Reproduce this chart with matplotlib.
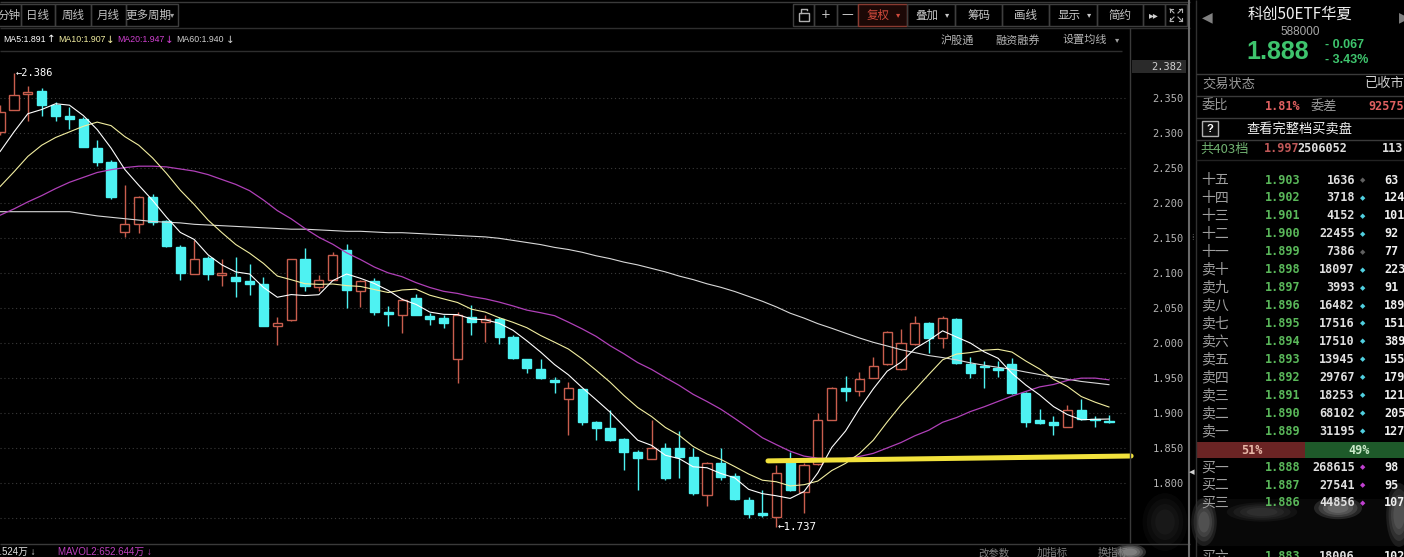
import numpy as np
import pandas as pd
import matplotlib
matplotlib.use("Agg")
import matplotlib.pyplot as plt
from matplotlib.patches import Rectangle, Ellipse

# ---------------- data ----------------
opens = [2.302, 2.333, 2.356, 2.361, 2.340, 2.325, 2.320, 2.279, 2.259, 2.159,
         2.170, 2.209, 2.175, 2.138, 2.099, 2.122, 2.097, 2.094, 2.089, 2.085,
         2.025, 2.033, 2.121, 2.081, 2.091, 2.133, 2.074, 2.089, 2.044, 2.040,
         2.064, 2.039, 2.036, 1.977, 2.037, 2.030, 2.034, 2.009, 1.977, 1.963,
         1.948, 1.921, 1.934, 1.888, 1.879, 1.863, 1.845, 1.834, 1.850, 1.850,
         1.838, 1.783, 1.829, 1.810, 1.776, 1.758, 1.752, 1.830, 1.787, 1.827,
         1.890, 1.936, 1.932, 1.951, 1.970, 1.963, 1.999, 2.029, 2.007, 2.035,
         1.971, 1.967, 1.964, 1.970, 1.929, 1.890, 1.887, 1.881, 1.905, 1.892,
         1.889]
highs = [2.340, 2.386, 2.368, 2.364, 2.344, 2.338, 2.323, 2.290, 2.262, 2.226,
         2.210, 2.213, 2.176, 2.141, 2.148, 2.125, 2.120, 2.123, 2.113, 2.094,
         2.037, 2.121, 2.136, 2.098, 2.131, 2.142, 2.091, 2.093, 2.053, 2.064,
         2.070, 2.043, 2.040, 2.045, 2.055, 2.040, 2.038, 2.012, 1.978, 1.977,
         1.952, 1.944, 1.935, 1.889, 1.904, 1.864, 1.848, 1.890, 1.857, 1.874,
         1.850, 1.831, 1.850, 1.814, 1.781, 1.790, 1.826, 1.844, 1.829, 1.900,
         1.937, 1.953, 1.959, 1.980, 2.018, 2.020, 2.039, 2.030, 2.039, 2.036,
         1.981, 1.975, 1.974, 1.979, 1.930, 1.906, 1.896, 1.912, 1.921, 1.896,
         1.897]
lows = [2.298, 2.333, 2.317, 2.324, 2.318, 2.306, 2.280, 2.253, 2.206, 2.152,
        2.157, 2.169, 2.138, 2.090, 2.099, 2.090, 2.082, 2.066, 2.069, 2.024,
        1.998, 2.032, 2.075, 2.075, 2.091, 2.050, 2.052, 2.040, 2.025, 2.014,
        2.040, 2.026, 2.022, 1.943, 2.012, 2.002, 1.999, 1.978, 1.958, 1.949,
        1.929, 1.869, 1.883, 1.862, 1.861, 1.819, 1.791, 1.834, 1.805, 1.808,
        1.783, 1.768, 1.805, 1.776, 1.750, 1.752, 1.737, 1.789, 1.757, 1.826,
        1.890, 1.917, 1.924, 1.950, 1.969, 1.962, 1.998, 1.986, 1.993, 1.971,
        1.951, 1.936, 1.952, 1.928, 1.881, 1.884, 1.869, 1.880, 1.891, 1.881,
        1.886]
closes = [2.331, 2.355, 2.359, 2.341, 2.325, 2.321, 2.281, 2.259, 2.209, 2.171,
          2.209, 2.173, 2.139, 2.100, 2.121, 2.099, 2.101, 2.089, 2.085, 2.025,
          2.029, 2.120, 2.082, 2.091, 2.126, 2.076, 2.089, 2.045, 2.042, 2.062,
          2.040, 2.034, 2.029, 2.040, 2.031, 2.034, 2.009, 1.979, 1.965, 1.950,
          1.945, 1.936, 1.887, 1.879, 1.862, 1.844, 1.836, 1.850, 1.808, 1.838,
          1.786, 1.829, 1.809, 1.777, 1.756, 1.755, 1.814, 1.790, 1.826, 1.890,
          1.936, 1.932, 1.949, 1.968, 2.016, 2.000, 2.029, 2.008, 2.036, 1.972,
          1.957, 1.966, 1.962, 1.929, 1.888, 1.886, 1.883, 1.905, 1.892, 1.891,
          1.888]

# moving-average values before enough candles are visible
ma5_lead = [2.274, 2.302, 2.328, 2.334]
ma10_lead = [2.224, 2.245, 2.267, 2.283, 2.294, 2.302, 2.310, 2.316, 2.311]
ma20_lead = [2.183, 2.192, 2.202, 2.211, 2.221, 2.230, 2.237, 2.244, 2.248, 2.251,
             2.253, 2.253, 2.252, 2.249, 2.246, 2.241, 2.234, 2.227, 2.218]
ma60_lead = [2.188, 2.188, 2.188, 2.188, 2.188, 2.188, 2.185, 2.182, 2.180, 2.178,
             2.176, 2.174, 2.173, 2.172, 2.170, 2.169, 2.168, 2.167, 2.166, 2.165,
             2.164, 2.163, 2.163, 2.162, 2.161, 2.160, 2.160, 2.159, 2.158, 2.158,
             2.157, 2.156, 2.155, 2.154, 2.153, 2.152, 2.150, 2.147, 2.144, 2.141,
             2.137, 2.134, 2.130, 2.125, 2.121, 2.116, 2.112, 2.107, 2.102, 2.096,
             2.091, 2.085, 2.080, 2.074, 2.067, 2.060, 2.052, 2.043, 2.036]

ma_legend_text = ["MA5:1.891", "MA10:1.907", "MA20:1.947", "MA60:1.940"]
ma_legend_arrow = ["↑", "↓", "↓", "↓"]
y_ticks = [1.80, 1.85, 1.90, 1.95, 2.00, 2.05, 2.10, 2.15, 2.20, 2.25, 2.30, 2.35]
axis_top_label = "2.382"

# hand drawn yellow trend line (candle index, price)
trend_x = [55.4, 81.6]
trend_y = [1.832, 1.839]

# quote panel
stock_name = "科创50ETF华夏"
stock_code = "588000"
last_price = "1.888"
change_abs = "- 0.067"
change_pct = "- 3.43%"
ask_labels = ["十五", "十四", "十三", "十二", "十一", "卖十", "卖九", "卖八",
              "卖七", "卖六", "卖五", "卖四", "卖三", "卖二", "卖一"]
ask_prices = ["1.903", "1.902", "1.901", "1.900", "1.899", "1.898", "1.897", "1.896",
              "1.895", "1.894", "1.893", "1.892", "1.891", "1.890", "1.889"]
ask_vols = ["1636", "3718", "4152", "22455", "7386", "18097", "3993", "16482",
            "17516", "17510", "13945", "29767", "18253", "68102", "31195"]
ask_dot_active = [False, True, True, True, False, True, True, True,
                  True, True, True, True, True, True, True]
ask_right = ["63", "124", "101", "92", "77", "223", "91", "189",
             "151", "389", "155", "179", "121", "205", "127"]
bid_labels = ["买一", "买二", "买三"]
bid_prices = ["1.888", "1.887", "1.886"]
bid_vols = ["268615", "27541", "44856"]
bid_right = ["98", "95", "107"]

# ---------------- figure ----------------
W, H = 1404, 557
plt.rcParams['font.family'] = ['Noto Sans CJK SC', 'DejaVu Sans']
CJK = ['Noto Sans CJK SC', 'DejaVu Sans']
MONO = ['DejaVu Sans Mono', 'DejaVu Sans']
NARROW = ['Liberation Sans', 'DejaVu Sans']
SANS = ['Liberation Sans', 'DejaVu Sans']

RED = '#c95e4e'
CYAN = '#4ef2f2'
GREEN = '#5ab85a'

fig = plt.figure(figsize=(W / 100, H / 100), dpi=100, facecolor='black')

ax = fig.add_axes([0, 14 / H, 1130 / W, 493 / H])
ax.set_facecolor('black')
n = len(closes)
x = np.arange(n)
o = np.array(opens); h = np.array(highs); l = np.array(lows); c = np.array(closes)
ax.set_xlim(-0.01, 81.52)
ax.set_ylim(1.7147, 2.419)
for s in ax.spines.values():
    s.set_visible(False)

for yv in np.arange(1.75, 2.351, 0.05):
    ax.plot([-0.01, 81.2], [yv, yv], color='#3a3a3a', lw=0.8, ls=(0, (1, 2.5)), zorder=0)

up = c >= o
bw = 0.66
# wicks
ax.vlines(x[~up], l[~up], h[~up], color=CYAN, lw=1, zorder=2)
top = np.maximum(o, c); bot = np.minimum(o, c)
ax.vlines(x[up], top[up], h[up], color=RED, lw=1, zorder=2)
ax.vlines(x[up], l[up], bot[up], color=RED, lw=1, zorder=2)
# bodies
ax.bar(x[up], (c - o)[up], bottom=o[up], width=bw, facecolor='black',
       edgecolor=RED, linewidth=1, zorder=3)
ax.bar(x[~up], (o - c)[~up], bottom=c[~up], width=bw, facecolor=CYAN,
       edgecolor=CYAN, linewidth=1, zorder=3)

# moving averages
cs = pd.Series(closes)
def ma(nwin, lead):
    m = cs.rolling(nwin).mean().to_numpy()
    m[:len(lead)] = lead
    return m
ma5 = ma(5, ma5_lead); ma10 = ma(10, ma10_lead)
ma20 = ma(20, ma20_lead); ma60 = ma(60, ma60_lead)
ax.plot(x, ma60, color='#d8d8d8', lw=0.8, zorder=4)
ax.plot(x, ma20, color='#b040b8', lw=0.9, zorder=4)
ax.plot(x, ma10, color='#f2eea0', lw=0.8, zorder=4)
ax.plot(x, ma5, color='#ffffff', lw=0.8, zorder=4)

# trend line
ax.plot(trend_x, trend_y, color='#f2e23c', lw=3.6, solid_capstyle='round',
        zorder=5, clip_on=False)

# high / low marks
ih = int(np.argmax(h)); il = int(np.argmin(l))
ax.text(ih + 0.15, h[ih], f"←{h[ih]:.3f}", color='white', fontsize=7.5,
        family=MONO, ha='left', va='center', zorder=6)
ax.text(il + 0.1, l[il], f"←{l[il]:.3f}", color='white', fontsize=7.8,
        family=MONO, ha='left', va='center', zorder=6)

ax.set_xticks([])
ax.yaxis.tick_right()
ax.set_yticks(y_ticks)
ax.set_yticklabels([f"{v:.3f}" for v in y_ticks], family=MONO)
ax.tick_params(axis='y', length=0, pad=16, labelcolor='#b4b4b4', labelsize=7.5)

# ---------------- overlay for the interface ----------------
ov = fig.add_axes([0, 0, 1, 1], zorder=5)
ov.set_xlim(0, W); ov.set_ylim(H, 0); ov.axis('off')
ov.patch.set_alpha(0)

def T(xx, yy, s, color='#c8c8c8', size=7.5, ha='left', va='center', family=CJK, weight='normal'):
    ov.text(xx, yy, s, color=color, fontsize=size, ha=ha, va=va, family=family, weight=weight)

def L(xs, ys, color='#3a3a3a', lw=1.0):
    ov.plot(xs, ys, color=color, lw=lw, solid_capstyle='butt')

# top line and toolbar
L([0, 1190], [1.5, 1.5], '#3a3a3a')
tabs = [(-10, 20.7, 9, "分钟"), (20.7, 55, 38, "日线"), (55, 90.7, 73, "周线"),
        (90.7, 125.7, 108, "月线"), (125.7, 177.7, 148, "更多周期")]
for x0, x1, cx, lab in tabs:
    ov.add_patch(Rectangle((x0, 3.5), x1 - x0, 22.5, fc='none', ec='#3e3e3e', lw=1))
    T(cx, 15, lab, '#c0c0c0', 8.3, ha='center')
T(172, 15, "▾", '#a0a0a0', 6, ha='center', family=['DejaVu Sans'])

btns = [(792.7, 814, None), (814, 836.7, "+"), (836.7, 858, "—"), (858, 907, "复权"),
        (907, 955, "叠加"), (955, 1002, "筹码"), (1002, 1049, "画线"),
        (1049, 1097, "显示"), (1097, 1143, "简约"), (1143, 1165, "▸▸"), (1165, 1187, None)]
for x0, x1, lab in btns:
    ec = '#8a3a30' if lab == "复权" else '#3e3e3e'
    fc = '#1c0806' if lab == "复权" else 'none'
    ov.add_patch(Rectangle((x0, 3.5), x1 - x0, 22.5, fc=fc, ec=ec, lw=1))
    if lab is None:
        continue
    col = '#d04a3c' if lab == "复权" else '#c8c8c8'
    if lab in ("复权", "叠加", "显示"):
        T(x0 + 20, 15, lab, col, 8.3, ha='center')
        T(x0 + 40, 15, "▾", col, 6, ha='center', family=['DejaVu Sans'])
    elif lab in ("+", "—"):
        T((x0 + x1) / 2, 14.5, lab, '#c8c8c8', 8.5, ha='center', family=['DejaVu Sans'])
    elif lab == "▸▸":
        T((x0 + x1) / 2, 15, "▸▸", '#d0d0d0', 7, ha='center', family=['DejaVu Sans'])
    else:
        T((x0 + x1) / 2, 15, lab, col, 8.3, ha='center')
# lock icon
ov.add_patch(Rectangle((799, 13), 10, 8, fc='none', ec='#b0b0b0', lw=1))
ov.plot([801, 801, 807, 807], [13, 8.5, 8.5, 10], color='#b0b0b0', lw=1)
# fullscreen icon
for (ax0, ay0, dx, dy) in [(1170, 9, 1, 1), (1182, 9, -1, 1), (1170, 21, 1, -1), (1182, 21, -1, -1)]:
    ov.plot([ax0, ax0 + 4 * dx], [ay0, ay0 + 4 * dy], color='#b0b0b0', lw=0.8)
    ov.plot([ax0, ax0 + 3 * dx], [ay0, ay0], color='#b0b0b0', lw=0.8)
    ov.plot([ax0, ax0], [ay0, ay0 + 3 * dy], color='#b0b0b0', lw=0.8)

L([0, 1190], [27.5, 27.5], '#2e2e2e')
# second row
T(957, 40, "沪股通", '#b4b4b4', 8, ha='center')
T(1018, 40, "融资融券", '#b4b4b4', 8, ha='center')
T(1085, 40, "设置均线", '#b4b4b4', 8, ha='center')
T(1117, 40, "▾", '#a0a0a0', 6, ha='center', family=['DejaVu Sans'])

ma_cols = ['#ffffff', '#f2eea0', '#d040d0', '#d0d0d0']
ma_x = [3, 58, 117, 176]
arrow_x = [51, 110, 169, 230]
for xx, axx, lab, arr, col in zip(ma_x, arrow_x, ma_legend_text, ma_legend_arrow, ma_cols):
    T(xx, 39.5, lab, col, 6.3, family=NARROW)
    T(axx, 39.5, arr, col, 7.5, ha='center', family=['DejaVu Sans'])

L([0, 1122], [50.5, 50.5], '#2e2e2e')
L([1130, 1130], [28, 543], '#3a3a3a')
ov.add_patch(Rectangle((1132, 60), 54, 13, fc='#2a2a2a', ec='none'))
T(1182, 67, axis_top_label, '#d0d0d0', 7.5, ha='right', family=MONO)

# bottom bar
L([0, 1190], [543.5, 543.5], '#3a3a3a')
T(-6, 552, "1.524万 ↓", '#e0e0e0', 7, family=NARROW + CJK)
T(58, 552, "MAVOL2:652.644万 ↓", '#c040c0', 7, family=NARROW + CJK)
T(978, 553, "改参数", '#808080', 7.5)
T(1037, 553, "加指标", '#808080', 7.5)
T(1098, 553, "换指标", '#808080', 7.5)

# separators
L([1189, 1189], [0, H], '#6a6a6a', 1.5)
L([1196, 1196], [0, H], '#303030', 1.0)
T(1192, 238, "⁞", '#808080', 6, ha='center', family=['DejaVu Sans'])
T(1192, 472, "◂", '#d0d0d0', 8, ha='center', family=['DejaVu Sans'])

# ---------------- quote panel ----------------
T(1207, 17, "◀", '#808080', 10, ha='center', family=['DejaVu Sans'])
T(1404, 17, "▶", '#808080', 10, ha='center', family=['DejaVu Sans'])
T(1300, 14, stock_name, '#f0f0f0', 11, ha='center')
T(1300, 32, stock_code, '#a8a8a8', 8.5, ha='center', family=SANS)
T(1278, 52, last_price, '#3ec46d', 18, ha='center', family=SANS, weight='bold')
T(1325, 45, change_abs, '#3ec46d', 9, family=SANS, weight='bold')
T(1325, 60, change_pct, '#3ec46d', 9, family=SANS, weight='bold')

for yy in (73.5, 95.5, 118, 140):
    L([1196, W], [yy, yy], '#3a3a3a')
L([1196, W], [160, 160], '#222222')

T(1202, 84, "交易状态", '#9a9a9a', 9.5)
T(1365, 84, "已收市", '#d0d0d0', 9.5)
T(1202, 106, "委比", '#9a9a9a', 9.5)
T(1265, 106, "1.81%", '#e06060', 8.5, family=MONO, weight='bold')
T(1311, 106, "委差", '#9a9a9a', 9.5)
T(1368, 106, "92575", '#e06060', 8.5, family=MONO, weight='bold')
ov.add_patch(Rectangle((1202, 121), 16, 15, fc='#101010', ec='#b0b0b0', lw=1))
T(1210, 128.5, "?", '#ffffff', 8, ha='center', family=SANS, weight='bold')
T(1247, 129, "查看完整档买卖盘", '#f0f0f0', 9.5)
T(1200, 149, "共403档", '#70b070', 9.5)
T(1264, 149, "1.997", '#c05858', 8.5, family=MONO, weight='bold')
T(1297, 149, "2506052", '#e0e0e0', 8.5, family=MONO, weight='bold')
T(1382, 149, "113", '#e0e0e0', 8.5, family=MONO, weight='bold')

for k in range(len(ask_labels)):
    yy = 180 + k * 17.95
    T(1201, yy, ask_labels[k], '#a0a0a0', 10)
    T(1300, yy, ask_prices[k], GREEN, 8.5, ha='right', family=MONO, weight='bold')
    T(1355, yy, ask_vols[k], '#e0e0e0', 8.5, ha='right', family=MONO, weight='bold')
    T(1363, yy, "◆", '#50d0e0' if ask_dot_active[k] else '#606060', 5, ha='center',
      family=['DejaVu Sans'])
    T(1384, yy, ask_right[k], '#f0f0f0', 8.5, family=MONO, weight='bold')

ov.add_patch(Rectangle((1197, 442), 108, 15.5, fc='#6a2424', ec='none'))
ov.add_patch(Rectangle((1305, 442), 99, 15.5, fc='#1e5a2a', ec='none'))
T(1252, 450, "51%", '#e8b8a8', 8.5, ha='center', family=MONO, weight='bold')
T(1359, 450, "49%", '#c8e8c8', 8.5, ha='center', family=MONO, weight='bold')

for k in range(len(bid_labels)):
    yy = 467.3 + k * 17.8
    T(1201, yy, bid_labels[k], '#a0a0a0', 10)
    T(1300, yy, bid_prices[k], GREEN, 8.5, ha='right', family=MONO, weight='bold')
    T(1355, yy, bid_vols[k], '#e0e0e0', 8.5, ha='right', family=MONO, weight='bold')
    T(1363, yy, "◆", '#c040d0', 5, ha='center', family=['DejaVu Sans'])
    T(1384, yy, bid_right[k], '#f0f0f0', 8.5, family=MONO, weight='bold')
T(1201, 557, "买六", '#a0a0a0', 10)
T(1300, 557, "1.883", GREEN, 8.5, ha='right', family=MONO, weight='bold')
T(1355, 557, "18006", '#e0e0e0', 8.5, ha='right', family=MONO, weight='bold')
T(1384, 557, "102", '#f0f0f0', 8.5, family=MONO, weight='bold')

# blurred watermark area (soft layered blobs)
ov.add_patch(Rectangle((1197, 499), 207, 47, fc='#0a0a0a', ec='none', alpha=0.9))
blobs = [(1204, 522, 16, 30, 0.10), (1338, 508, 30, 14, 0.14),
         (1399, 515, 16, 40, 0.10), (1262, 512, 44, 12, 0.05),
         (1130, 552, 20, 10, 0.20), (1165, 522, 28, 36, 0.03)]
for (ex, ey, ew, eh, a) in blobs:
    for s in (1.6, 1.3, 1.0, 0.7):
        ov.add_patch(Ellipse((ex, ey), ew * s, eh * s, fc='#d8d8d8', ec='none', alpha=a))

fig.savefig("out.png", dpi=100, facecolor='black')
